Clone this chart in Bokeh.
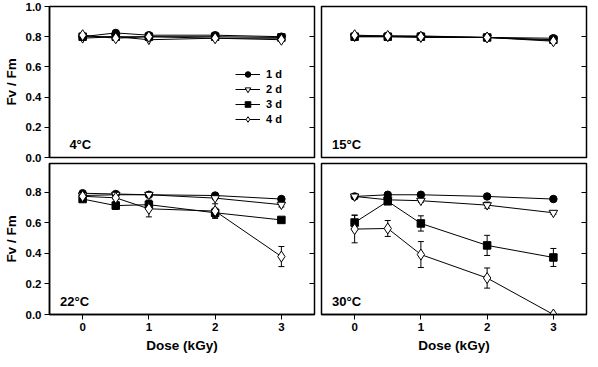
from bokeh.plotting import figure
from bokeh.models import (ColumnDataSource, Whisker, TeeHead, LinearAxis, FixedTicker,
                          Range1d, Label, Legend, LegendItem, NumeralTickFormatter,
                          CustomLabelingPolicy)
from bokeh.layouts import column, row
from bokeh.embed import file_html
from bokeh.resources import INLINE

dose = [0, 0.5, 1, 2, 3]
day_labels = ["1 d", "2 d", "3 d", "4 d"]
panel_labels = ["4°C", "15°C", "22°C", "30°C"]
x_ticks = [0, 1, 2, 3]
y_ticks = [0.0, 0.2, 0.4, 0.6, 0.8, 1.0]

# Fv/Fm values, one list per storage day
t4_d1 = [0.80, 0.825, 0.81, 0.81, 0.80]
t4_d2 = [0.79, 0.80, 0.78, 0.79, 0.79]
t4_d3 = [0.80, 0.80, 0.80, 0.80, 0.795]
t4_d4 = [0.81, 0.79, 0.80, 0.79, 0.78]

t15_d1 = [0.805, 0.805, 0.805, 0.795, 0.79]
t15_d2 = [0.80, 0.80, 0.795, 0.795, 0.775]
t15_d3 = [0.80, 0.80, 0.80, 0.795, 0.78]
t15_d4 = [0.81, 0.805, 0.80, 0.795, 0.77]

t22_d1 = [0.795, 0.79, 0.785, 0.78, 0.757]
t22_d2 = [0.78, 0.785, 0.785, 0.763, 0.72]
t22_d3 = [0.757, 0.714, 0.72, 0.667, 0.62]
t22_d4 = [0.775, 0.765, 0.693, 0.678, 0.38]

t30_d1 = [0.774, 0.785, 0.785, 0.774, 0.757]
t30_d2 = [0.774, 0.752, 0.746, 0.717, 0.667]
t30_d3 = [0.603, 0.742, 0.597, 0.453, 0.374]
t30_d4 = [0.56, 0.564, 0.393, 0.239, 0.0]

# error bars (SE)
zero = [0, 0, 0, 0, 0]
e22_d1 = [0, 0, 0, 0.008, 0.01]
e22_d2 = [0, 0, 0.01, 0.01, 0.015]
e22_d3 = [0.01, 0.025, 0.03, 0.03, 0.015]
e22_d4 = [0.01, 0.01, 0.053, 0.048, 0.066]
e30_d1 = [0, 0, 0, 0, 0]
e30_d2 = [0, 0, 0.01, 0.02, 0.01]
e30_d3 = [0.049, 0.01, 0.05, 0.066, 0.059]
e30_d4 = [0.09, 0.052, 0.085, 0.066, 0]

panels = [
    ([t4_d1, t4_d2, t4_d3, t4_d4], [zero] * 4),
    ([t15_d1, t15_d2, t15_d3, t15_d4], [zero] * 4),
    ([t22_d1, t22_d2, t22_d3, t22_d4], [e22_d1, e22_d2, e22_d3, e22_d4]),
    ([t30_d1, t30_d2, t30_d3, t30_d4], [e30_d1, e30_d2, e30_d3, e30_d4]),
]

styles = [
    dict(marker="circle", size=7.5, fill_color="black"),
    dict(marker="inverted_triangle", size=8.5, fill_color="white"),
    dict(marker="square", size=7.5, fill_color="black"),
    dict(marker="diamond", size=11, fill_color="white"),
]

FONT = "Liberation Sans"
FW, FH = 265, 151

no_labels = CustomLabelingPolicy(code="""
for (const i of Array.from(indices)) indices.unset(i)
return indices
""")


def make_panel(idx):
    top = idx < 2
    left = idx % 2 == 0
    p = figure(
        frame_width=FW, frame_height=FH,
        x_range=Range1d(-0.5, 3.5),
        y_range=Range1d(0, 1.0 if top else 0.99),
        x_axis_location=None if top else "below",
        y_axis_location="left" if left else None,
        output_backend="svg", toolbar_location=None,
        min_border_left=43 if left else 3,
        min_border_right=2 if left else 1,
        min_border_top=6 if top else 1,
        min_border_bottom=5 if top else 0,
    )
    p.grid.visible = False
    p.outline_line_color = "black"
    p.outline_line_width = 1.5
    p.background_fill_color = "white"
    p.border_fill_color = None

    for ax in p.xaxis:
        ax.ticker = FixedTicker(ticks=x_ticks)
        ax.axis_label = "Dose (kGy)"
    for ax in p.yaxis:
        ax.ticker = FixedTicker(ticks=y_ticks)
        ax.formatter = NumeralTickFormatter(format="0.0")
        ax.axis_label = "Fv / Fm"
    for ax in list(p.xaxis) + list(p.yaxis):
        ax.major_label_text_font = FONT
        ax.major_label_text_font_style = "bold"
        ax.major_label_text_font_size = "11.5px"
        ax.major_label_text_color = "black"
        ax.axis_label_text_font = FONT
        ax.axis_label_text_font_style = "bold"
        ax.axis_label_text_font_size = "13.5px"
        ax.axis_label_text_color = "black"
        ax.major_tick_out = 5
        ax.major_tick_in = 0
        ax.minor_tick_line_color = None
        ax.axis_line_width = 1.5
        ax.major_tick_line_width = 1
        ax.major_label_standoff = 3
        ax.axis_label_standoff = 4

    rax = LinearAxis(ticker=FixedTicker(ticks=y_ticks), major_tick_in=5, major_tick_out=0,
                     major_label_text_font_size="1px", major_label_standoff=0,
                     major_label_policy=no_labels,
                     axis_line_color=None, minor_tick_line_color=None)
    p.add_layout(rax, "right")

    vals, errs = panels[idx]
    items = []
    for k in range(4):
        y = vals[k]
        e = errs[k]
        src = ColumnDataSource(dict(x=dose, y=y))
        lr = p.line("x", "y", source=src, line_color="black", line_width=1)
        xs = [dose[i] for i in range(5) if e[i] > 0]
        if xs:
            up = [y[i] + e[i] for i in range(5) if e[i] > 0]
            lo = [y[i] - e[i] for i in range(5) if e[i] > 0]
            esrc = ColumnDataSource(dict(x=xs, upper=up, lower=lo))
            w = Whisker(source=esrc, base="x", upper="upper", lower="lower",
                        line_color="black", line_width=1, level="underlay",
                        upper_head=TeeHead(size=6, line_color="black", line_width=1),
                        lower_head=TeeHead(size=6, line_color="black", line_width=1))
            p.add_layout(w)
        st = styles[k]
        mr = p.scatter("x", "y", source=src, marker=st["marker"], size=st["size"],
                       fill_color=st["fill_color"], line_color="black", line_width=1)
        items.append(LegendItem(label=day_labels[k], renderers=[lr, mr]))

    lx = -0.2 if idx == 0 else -0.34
    p.add_layout(Label(x=lx, y=0.085, text=panel_labels[idx], text_font=FONT,
                       text_font_style="bold", text_font_size="13px",
                       text_color="black", text_baseline="alphabetic"))

    if idx == 0:
        leg = Legend(items=items, location=(186, 31), padding=0, margin=0, spacing=1,
                     glyph_height=14, glyph_width=25, label_standoff=6,
                     label_text_font=FONT, label_text_font_style="bold",
                     label_text_font_size="11px", label_height=14,
                     label_text_color="black",
                     border_line_color=None, background_fill_alpha=0)
        p.add_layout(leg)
    return p


figs = [make_panel(i) for i in range(4)]
layout = column(row(figs[0], figs[1]), row(figs[2], figs[3]))

with open("out.html", "w") as f:
    f.write(file_html(layout, INLINE))
